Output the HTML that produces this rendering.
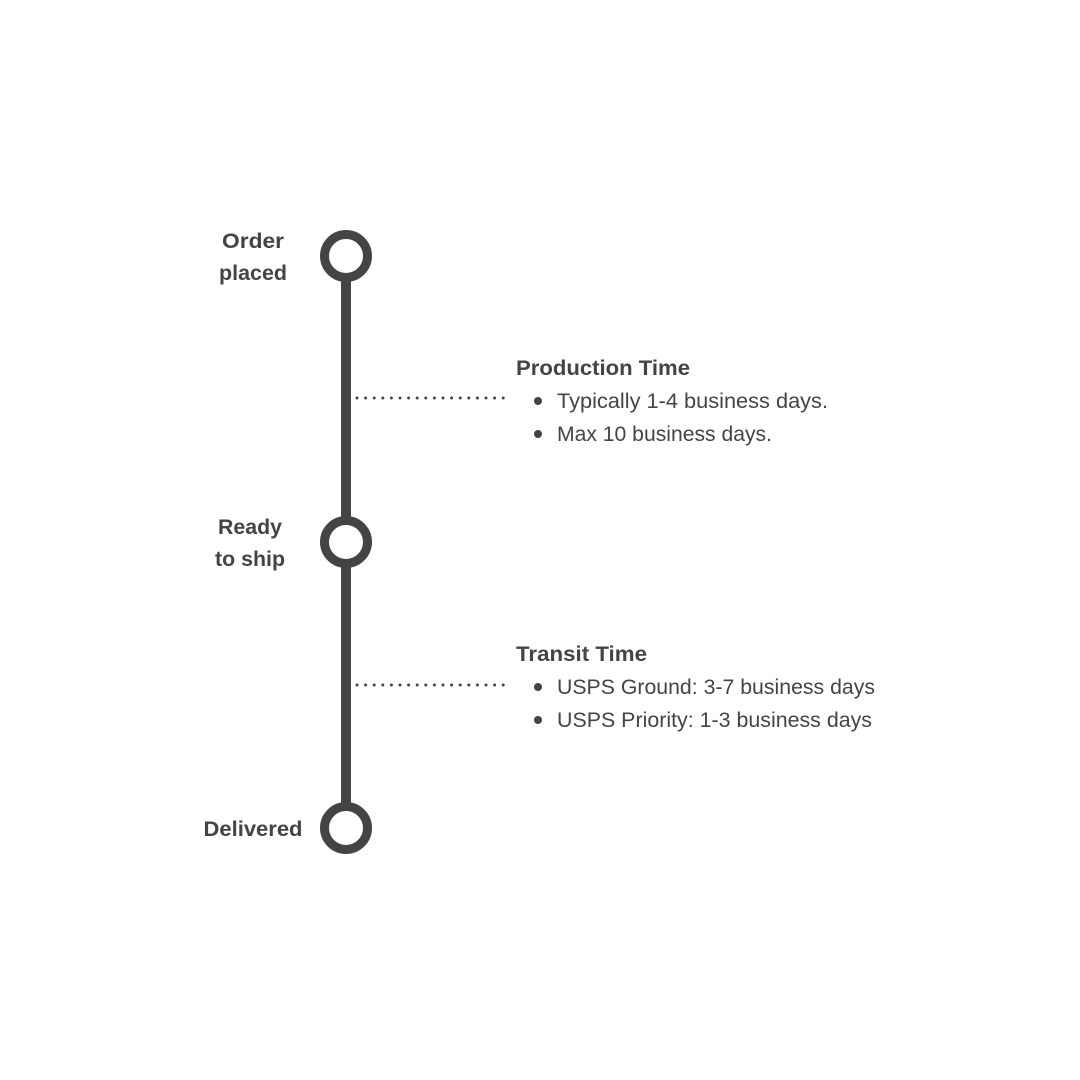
<!DOCTYPE html>
<html><head><style>html,body{margin:0;padding:0;background:#fff}svg{display:block}</style></head>
<body>
<svg width="1080" height="1080" viewBox="0 0 1080 1080" xmlns="http://www.w3.org/2000/svg" font-family="Liberation Sans, sans-serif" fill="#444">
<rect width="1080" height="1080" fill="#fff"/>
<rect x="341" y="270" width="10" height="560" fill="#444"/>
<g fill="#fff" stroke="#444" stroke-width="9">
<circle cx="346" cy="256" r="21.5"/>
<circle cx="346" cy="542" r="21.5"/>
<circle cx="346" cy="828" r="21.5"/>
</g>
<g stroke="#444" stroke-width="3" stroke-linecap="round" stroke-dasharray="0 8.6">
<line x1="357" y1="398" x2="510" y2="398"/>
<line x1="357" y1="685" x2="510" y2="685"/>
</g>
<g font-weight="bold" font-size="21" text-anchor="middle">
<text x="253" y="248" textLength="62" lengthAdjust="spacingAndGlyphs">Order</text>
<text x="253" y="280" textLength="68" lengthAdjust="spacingAndGlyphs">placed</text>
<text x="250" y="534" textLength="64" lengthAdjust="spacingAndGlyphs">Ready</text>
<text x="250" y="566" textLength="70" lengthAdjust="spacingAndGlyphs">to ship</text>
<text x="253" y="836" textLength="99" lengthAdjust="spacingAndGlyphs">Delivered</text>
</g>
<g font-size="21">
<text x="516" y="375" font-weight="bold" textLength="174" lengthAdjust="spacingAndGlyphs">Production Time</text>
<circle cx="538" cy="401" r="4"/>
<text x="557" y="408" textLength="271" lengthAdjust="spacingAndGlyphs">Typically 1-4 business days.</text>
<circle cx="538" cy="434" r="4"/>
<text x="557" y="441" textLength="215" lengthAdjust="spacingAndGlyphs">Max 10 business days.</text>
<text x="516" y="661" font-weight="bold" textLength="131" lengthAdjust="spacingAndGlyphs">Transit Time</text>
<circle cx="538" cy="687" r="4"/>
<text x="557" y="694" textLength="318" lengthAdjust="spacingAndGlyphs">USPS Ground: 3-7 business days</text>
<circle cx="538" cy="720" r="4"/>
<text x="557" y="727" textLength="315" lengthAdjust="spacingAndGlyphs">USPS Priority: 1-3 business days</text>
</g>
</svg>
</body></html>
